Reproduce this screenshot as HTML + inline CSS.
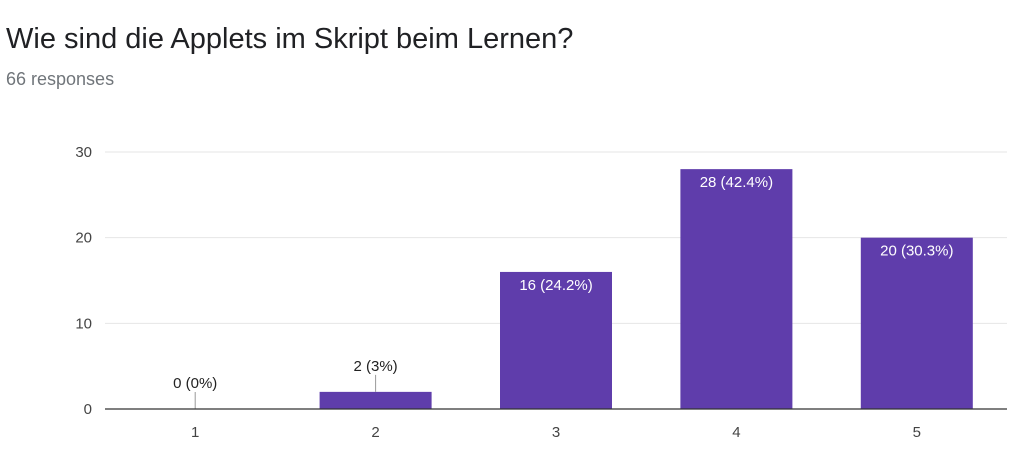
<!DOCTYPE html>
<html><head><meta charset="utf-8">
<style>
body{margin:0;background:#fff;font-family:"Liberation Sans",Arial,sans-serif;}
#wrap{position:relative;width:1024px;height:451px;overflow:hidden;}
#title{position:absolute;left:6px;top:23px;font-size:29px;color:#202124;}
#sub{position:absolute;left:6px;top:69px;font-size:18px;color:#70757a;}
svg{position:absolute;left:0;top:0;}
</style></head>
<body>
<div id="wrap">
<div id="title">Wie sind die Applets im Skript beim Lernen?</div>
<div id="sub">66 responses</div>
<svg id="chart" width="1024" height="451"></svg>
</div>
<script>
const categories=["1","2","3","4","5"];
const counts=[0,2,16,28,20];
const pctLabels=["0%","3%","24.2%","42.4%","30.3%"];
const yTicks=[0,10,20,30];
const NS="http://www.w3.org/2000/svg";
const svgEl=document.getElementById('chart');
const plotLeft=105,plotRight=1007,plotTop=152,plotBottom=409,yMax=30;
const band=(plotRight-plotLeft)/categories.length,barW=112;
function y(v){return plotBottom-(v/yMax)*(plotBottom-plotTop);}
function xc(i){return plotLeft+band*(i+0.5);}
function mk(tag,attrs){const e=document.createElementNS(NS,tag);for(const k in attrs)e.setAttribute(k,attrs[k]);svgEl.appendChild(e);return e;}
yTicks.forEach(t=>{
  if(t>0){const g=mk('line',{x1:plotLeft,x2:plotRight,y1:y(t),y2:y(t),stroke:'#e6e6e6','stroke-width':1});
  
  }
  const l=mk('text',{x:92,y:y(t)+5,'text-anchor':'end','font-size':15,fill:'#444'});
  l.textContent=t;
  
  
});
categories.forEach((c,i)=>{
  const v=counts[i],cx=xc(i),h=plotBottom-y(v);
  if(v>0){const b=mk('rect',{x:cx-barW/2,y:y(v),width:barW,height:h,fill:'#5f3dab'});
  
  }
  const lab=v+' ('+pctLabels[i]+')';
  if(h>30){
    const t=mk('text',{x:cx,y:y(v)+18,'text-anchor':'middle','font-size':15,fill:'#fff'});
    t.textContent=lab;
    
    
  }else{
    const base=y(v);
    const ln=mk('line',{x1:cx,x2:cx,y1:base-17,y2:base,stroke:'#999','stroke-width':1});
    
    
    const t=mk('text',{x:cx,y:base-21,'text-anchor':'middle','font-size':15,fill:'#222'});
    t.textContent=lab;
    
    
  }
  const xl=mk('text',{x:cx,y:437,'text-anchor':'middle','font-size':15,fill:'#444'});
  xl.textContent=c;
  
  
});
const ax=mk('line',{x1:plotLeft,x2:plotRight,y1:plotBottom,y2:plotBottom,stroke:'#333','stroke-width':1.2});


</script>
</body></html>
